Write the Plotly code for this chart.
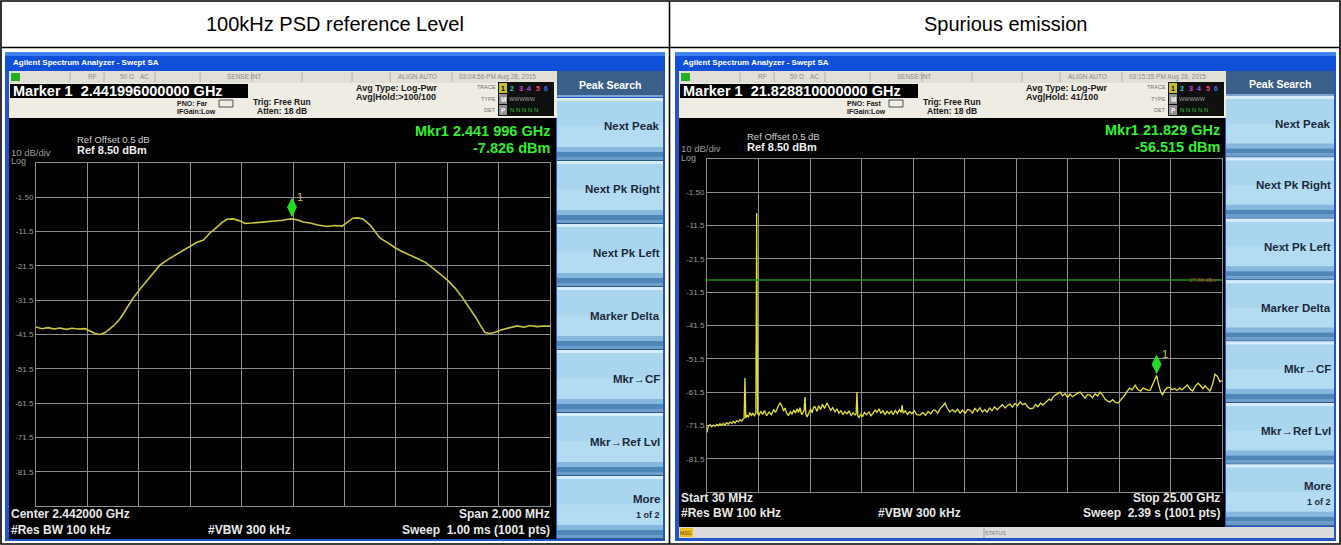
import plotly.graph_objects as go

W, H = 1341, 545
SANS = "Liberation Sans, Arial, Helvetica, sans-serif"

# ---------------- data ----------------
panel_titles = ["100kHz PSD reference Level", "Spurious emission"]

psd_freq_ghz = [
    2.441000, 2.441023, 2.441047, 2.441070, 2.441093, 2.441117, 2.441140, 2.441163,
    2.441191, 2.441210, 2.441230, 2.441249, 2.441268, 2.441288, 2.441307, 2.441327,
    2.441354, 2.441377, 2.441405, 2.441432, 2.441455, 2.441482, 2.441514, 2.441541,
    2.441572, 2.441599, 2.441626, 2.441650, 2.441677, 2.441704, 2.441724, 2.441743,
    2.441767, 2.441790, 2.441813, 2.441840, 2.441872, 2.441899, 2.441930, 2.441961,
    2.441980, 2.441996, 2.442019, 2.442039, 2.442066, 2.442097, 2.442132, 2.442163,
    2.442191, 2.442210, 2.442233, 2.442253, 2.442272, 2.442300, 2.442323, 2.442339,
    2.442370, 2.442397, 2.442424, 2.442455, 2.442486, 2.442518, 2.442541, 2.442572,
    2.442603, 2.442630, 2.442658, 2.442689, 2.442712, 2.442732, 2.442747, 2.442767,
    2.442790, 2.442813, 2.442844, 2.442872, 2.442899, 2.442922, 2.442949, 2.442977,
    2.443000,
]
psd_level_dbm = [
    -39.3, -39.8, -39.5, -39.9, -39.6, -40.0, -39.7, -39.9,
    -39.8, -40.6, -41.2, -41.5, -41.0, -39.8, -38.6, -36.9,
    -33.8, -31.0, -28.2, -25.8, -23.6, -21.3, -19.6, -18.4,
    -16.9, -15.8, -14.6, -14.0, -11.9, -10.2, -8.8, -7.9,
    -7.8, -8.3, -9.1, -9.0, -8.8, -8.6, -8.4, -8.2,
    -7.9, -7.8, -8.1, -8.7, -9.0, -9.6, -10.0, -9.7,
    -9.9, -8.9, -7.6, -7.5, -7.8, -9.6, -11.8, -13.4,
    -14.8, -16.2, -17.3, -18.3, -19.4, -20.6, -21.9, -23.8,
    -25.8, -27.9, -30.6, -33.9, -36.6, -39.2, -40.9, -41.2,
    -40.8, -40.1, -39.6, -39.0, -39.4, -38.9, -39.2, -39.0,
    -39.1,
]
psd_center_ghz = 2.442
psd_span_ghz = 0.002
psd_marker_ghz = 2.441996
psd_marker_dbm = -7.826

spur_start_ghz = 0.03
spur_stop_ghz = 25.0
spur_freq_ghz = [
    0.03, 0.10, 0.18, 0.26, 0.34, 0.42, 0.50, 0.58, 0.66, 0.74, 0.82, 0.90, 0.98, 1.06,
    1.15, 1.23, 1.31, 1.39, 1.47, 1.55, 1.63, 1.71, 1.78, 1.83, 1.87, 1.91, 1.97, 2.04,
    2.11, 2.18, 2.25, 2.33, 2.40, 2.44, 2.48, 2.55, 2.64, 2.73, 2.82, 2.92, 3.04, 3.15,
    3.26, 3.36, 3.47, 3.57, 3.66, 3.74, 3.81, 3.90, 3.98, 4.07, 4.15, 4.24, 4.32, 4.40,
    4.47, 4.54, 4.62, 4.70, 4.74, 4.78, 4.82, 4.88, 4.96, 5.05, 5.13, 5.20, 5.27, 5.36,
    5.45, 5.54, 5.63, 5.73, 5.85, 5.94, 6.03, 6.12, 6.24, 6.33, 6.42, 6.52, 6.62, 6.72,
    6.82, 6.92, 7.02, 7.11, 7.21, 7.26, 7.30, 7.34, 7.40, 7.48, 7.57, 7.66, 7.76, 7.89,
    7.98, 8.08, 8.18, 8.27, 8.37, 8.46, 8.56, 8.66, 8.76, 8.86, 8.96, 9.06, 9.16, 9.26,
    9.36, 9.45, 9.49, 9.54, 9.64, 9.75, 9.86, 9.97, 10.08, 10.20, 10.36, 10.50, 10.62, 10.75,
    10.88, 11.00, 11.09, 11.22, 11.35, 11.47, 11.57, 11.67, 11.80, 11.93, 12.06, 12.18, 12.30, 12.42,
    12.55, 12.66, 12.78, 12.90, 13.02, 13.14, 13.26, 13.38, 13.50, 13.61, 13.73, 13.85, 13.97, 14.10,
    14.24, 14.36, 14.48, 14.60, 14.72, 14.84, 14.96, 15.08, 15.21, 15.33, 15.45, 15.57, 15.70, 15.84,
    15.96, 16.08, 16.20, 16.31, 16.42, 16.52, 16.62, 16.72, 16.81, 16.92, 17.03, 17.15, 17.27, 17.39,
    17.51, 17.63, 17.75, 17.87, 18.00, 18.12, 18.24, 18.36, 18.48, 18.60, 18.72, 18.85, 18.97, 19.09,
    19.21, 19.33, 19.45, 19.57, 19.70, 19.83, 19.96, 20.08, 20.20, 20.30, 20.40, 20.52, 20.65, 20.79,
    20.92, 21.05, 21.18, 21.30, 21.42, 21.52, 21.62, 21.72, 21.83, 21.92, 22.02, 22.12, 22.22, 22.34,
    22.46, 22.58, 22.70, 22.82, 22.95, 23.07, 23.19, 23.32, 23.45, 23.57, 23.70, 23.84, 23.96, 24.08,
    24.18, 24.30, 24.42, 24.54, 24.66, 24.78, 24.90, 25.00,
]
spur_level_dbm = [
    -73.6, -71.6, -71.3, -71.9, -71.4, -71.8, -71.2, -71.6, -71.0, -71.5, -70.9, -71.4, -70.7, -71.1,
    -70.5, -70.9, -70.3, -70.8, -70.1, -70.4, -69.8, -70.2, -69.6, -69.4, -57.3, -69.3, -68.4, -69.0,
    -67.6, -68.5, -67.9, -68.6, -67.7, -7.7, -67.9, -68.4, -67.3, -68.2, -67.0, -68.6, -67.5, -68.3,
    -66.8, -67.6, -65.9, -64.8, -65.6, -67.2, -66.3, -67.9, -68.5, -67.4, -68.1, -66.9, -67.8, -66.5,
    -67.6, -66.2, -68.3, -67.5, -67.0, -63.0, -68.0, -69.0, -67.9, -66.6, -67.7, -66.0, -65.9, -67.3,
    -65.6, -66.7, -65.2, -66.4, -64.8, -65.9, -67.0, -66.2, -67.4, -66.5, -67.8, -67.1, -68.2, -67.4,
    -68.0, -67.2, -68.5, -67.7, -68.4, -68.0, -61.5, -68.6, -69.2, -68.1, -68.9, -67.6, -68.3, -67.5,
    -68.6, -67.8, -66.9, -67.6, -66.5, -67.9, -67.1, -68.2, -67.3, -68.0, -67.2, -68.3, -67.0, -67.9,
    -66.8, -67.6, -65.4, -67.8, -67.1, -68.2, -67.4, -68.0, -67.1, -68.3, -68.4, -67.6, -68.5, -67.3,
    -68.0, -66.9, -66.9, -67.8, -66.4, -65.6, -64.8, -66.2, -67.4, -66.8, -67.5, -66.6, -67.8, -66.9,
    -67.9, -66.7, -66.9, -67.8, -66.4, -67.3, -66.2, -67.5, -66.8, -67.5, -66.3, -67.1, -65.9, -66.8,
    -66.0, -65.2, -66.3, -65.5, -65.1, -66.0, -64.9, -65.6, -64.5, -65.3, -64.9, -65.9, -66.5, -66.3,
    -65.2, -65.9, -64.8, -65.4, -64.8, -64.2, -63.6, -64.0, -63.0, -62.4, -62.0, -61.5, -62.6, -62.0,
    -63.1, -62.1, -62.9, -62.3, -61.8, -61.5, -62.6, -63.3, -62.2, -62.4, -63.2, -62.0, -62.7, -61.5,
    -62.4, -63.6, -64.2, -64.5, -63.8, -64.6, -64.8, -63.9, -63.2, -62.3, -61.2, -60.3, -60.8, -59.4,
    -60.7, -61.2, -60.3, -60.6, -61.0, -60.9, -59.6, -58.2, -56.5, -59.0, -61.3, -62.4, -61.0, -60.2,
    -60.0, -60.8, -60.4, -61.0, -60.3, -60.8, -60.2, -59.4, -60.6, -61.2, -59.8, -58.8, -59.6, -60.5,
    -59.6, -60.4, -61.2, -59.2, -56.1, -56.8, -58.4, -58.0,
]
spur_marker_ghz = 21.82881
spur_marker_dbm = -56.515
spur_line_dbm = -27.83

ref_level_dbm = 8.5
db_per_div = 10
n_div = 10
y_tick_labels = ["-1.50", "-11.5", "-21.5", "-31.5", "-41.5", "-51.5", "-61.5", "-71.5", "-81.5"]
softkeys = ["Next Peak", "Next Pk Right", "Next Pk Left", "Marker Delta",
            "Mkr\u2192CF", "Mkr\u2192Ref Lvl", "More"]

# ---------------- helpers ----------------
def X(p):
    return p / W


def Y(p):
    return 1 - p / H


shapes, annos = [], []


def rect(x0, y0, x1, y1, fill, lc=None, lw=0, layer="below"):
    shapes.append(dict(type="rect", xref="paper", yref="paper",
                       x0=X(x0), x1=X(x1), y0=Y(y1), y1=Y(y0),
                       fillcolor=fill, layer=layer,
                       line=dict(color=lc or "rgba(0,0,0,0)", width=lw)))


def seg(x0, y0, x1, y1, color, w=1, layer="below"):
    shapes.append(dict(type="line", xref="paper", yref="paper",
                       x0=X(x0), x1=X(x1), y0=Y(y0), y1=Y(y1), layer=layer,
                       line=dict(color=color, width=w)))


def txt(x, y, s, size=9, color="#000", anchor="left", bold=False):
    annos.append(dict(xref="paper", yref="paper", x=X(x), y=Y(y),
                      text=("<b>%s</b>" % s) if bold else s, showarrow=False,
                      xanchor=anchor, yanchor="middle", borderpad=0,
                      font=dict(size=size, color=color, family=SANS)))


# ---------------- table frame ----------------
txt(335, 24, panel_titles[0], 20, "#000", "center")
txt(1005, 24, panel_titles[1], 20, "#000", "center")


def screen(c):
    dx = c["dx"]
    fx0, fx1 = c["fx"]
    # window frame and title bar
    rect(fx0, 52, fx1, 541, "#2355c8")
    rect(fx0, 52, fx1, 71, "#1050d8")
    rect(fx0, 52, fx1, 56, "#3f82f0")
    txt(dx + 12, 62, "Agilent Spectrum Analyzer - Swept SA", 8, "#ffffff", bold=True)
    # status row
    rect(dx + 9, 71, dx + 557, 83, "#e2dfd6")
    rect(dx + 11, 73, dx + 20, 81, "#22b022")
    for sx in [70, 104, 155, 200, 252, 302, 352, 390, 452]:
        seg(dx + sx, 72, dx + sx, 82, "#b8b4aa", 1)
    for sx, s in [(87, "RF"), (119, "50 \u03a9"), (139, "AC"), (226, "SENSE:INT"),
                  (397, "ALIGN AUTO"), (458, c["time"])]:
        txt(dx + sx, 77, s, 6.5, "#8a8a8a")
    # beige settings row
    rect(dx + 9, 83, dx + 557, 118, "#efece3")
    rect(dx + 10, 84, dx + 248, 98, "#000000")
    txt(dx + 12, 91, c["marker_hdr"], 14.5, "#ffffff", bold=True)
    txt(dx + 176, 103.5, c["pno"], 7, "#202020", bold=True)
    txt(dx + 176, 111.5, "IFGain:Low", 7, "#202020", bold=True)
    rect(dx + 219, 100, dx + 233, 107, "rgba(0,0,0,0)", "#505050", 1)
    txt(dx + 252, 102, "Trig: Free Run", 8.5, "#202020", bold=True)
    txt(dx + 256, 111, "Atten: 18 dB", 8.5, "#202020", bold=True)
    txt(dx + 355, 88, "Avg Type: Log-Pwr", 9, "#202020", bold=True)
    txt(dx + 355, 97, c["avg_hold"], 9, "#202020", bold=True)
    for yy, s in [(87, "TRACE"), (99, "TYPE"), (110, "DET")]:
        txt(dx + 497, yy, s, 5.5, "#707070", "right")
    rect(dx + 498, 82, dx + 554, 116, "#101010")
    rect(dx + 499, 83, dx + 507, 93, "#c8c020")
    txt(dx + 503, 88, "1", 7, "#000000", "center", True)
    for i, col in enumerate(["#20d0d0", "#e040e0", "#a050ff", "#ff4080", "#4070ff"]):
        txt(dx + 512 + i * 8.5, 88, str(i + 2), 7, col, "center", True)
    rect(dx + 499, 94, dx + 507, 104, "#909090")
    txt(dx + 503, 99, "M", 6.5, "#ffffff", "center", True)
    txt(dx + 508, 99, "WWWWW", 5.5, "#a0a0a0")
    rect(dx + 499, 105, dx + 507, 115, "#909090")
    txt(dx + 503, 110, "P", 6.5, "#ffffff", "center", True)
    txt(dx + 509, 110, "N N N N N", 6, "#30c030")
    # black display
    d = c["disp"]
    rect(d[0], d[1], d[2], d[3], "#000000")
    txt(dx + 76, c["ref_y"] - 11, "Ref Offset 0.5 dB", 9.5, "#d0d0d0")
    txt(dx + 76, c["ref_y"], "Ref 8.50 dBm", 11, "#f0f0f0", bold=True)
    txt(dx + 10, c["ref_y"] + 2, "10 dB/div", 9.5, "#9a9a9a")
    txt(dx + 10, c["ref_y"] + 11, "Log", 9, "#9a9a9a")
    txt(c["mkr_x"], c["mkr_y"], c["mkr1"], 14.5, "#33ee33", "right", True)
    txt(c["mkr_x"], c["mkr_y"] + 17, c["mkr2"], 14.5, "#33ee33", "right", True)
    b1, b2 = c["bot_y"]
    txt(dx + 10, b1, c["bl1"], 12, "#e8e8e8", bold=True)
    txt(dx + 10, b2, "#Res BW 100 kHz", 12, "#e8e8e8", bold=True)
    txt(dx + 207, b2, "#VBW 300 kHz", 12, "#e8e8e8", bold=True)
    txt(c["mkr_x"], b1, c["br1"], 12, "#e8e8e8", "right", True)
    txt(c["mkr_x"], b2, c["br2"], 12, "#e8e8e8", "right", True)
    # message bar
    if c.get("msg"):
        m = c["msg"]
        rect(m[0], m[1], m[2], m[3], "#dcdcdc")
        rect(m[0] + 1, m[1] + 1, m[0] + 14, m[3] - 1, "#f0c020")
        txt(m[0] + 7, (m[1] + m[3]) / 2, "MSG", 5, "#604000", "center")
        seg(dx + 314, m[1], dx + 314, m[3], "#a0a0a0", 1)
        txt(dx + 325, (m[1] + m[3]) / 2, "STATUS", 5.5, "#808080", "center")
    # softkey panel
    px0, px1 = c["panel"]
    h0, h1 = c["head"]
    rect(px0, h0, px1, h1, "#3a5f88")
    rect(px0, h1 - 2, px1, h1, "#7aa6d0")
    txt((px0 + px1) / 2, (h0 + h1) / 2 + 1, "Peak Search", 10.5, "#ffffff", "center", True)
    bt, bh = c["btn0"], c["btnh"]
    for i, key in enumerate(softkeys):
        y0 = bt + i * bh
        y1 = y0 + bh
        rect(px0, y0, px1, y1, "#a9d5ef")
        rect(px0, y0, px1, y0 + 3, "#d6eefb")
        rect(px0, y0 + 0.45 * bh, px1, y1 - 14, "#b3dbf2")
        rect(px0, y1 - 14, px1, y1 - 9, "#86b8de")
        rect(px0, y1 - 9, px1, y1 - 4, "#4f86b8")
        rect(px0, y1 - 4, px1, y1 - 1, "#6c9ecb")
        rect(px0, y1 - 1, px1, y1, "#2c5684")
        cy = (y0 + y1) / 2 - 3
        if key == "More":
            txt(px1 - 2, cy - 6, key, 11.5, "#1c2a3c", "right", True)
            txt(px1 - 2, cy + 10, "1 of 2", 9, "#1c2a3c", "right", True)
        else:
            txt(px1 - 2, cy, key, 11.5, "#1c2a3c", "right", True)


screen(dict(dx=0, fx=(5, 665), time="03:04:56 PM Aug 28, 2015",
            marker_hdr="Marker 1  2.441996000000 GHz", pno="PNO: Far",
            avg_hold="Avg|Hold:>100/100", disp=(9, 118, 556, 539), ref_y=150,
            mkr_x=551, mkr_y=131, mkr1="Mkr1 2.441 996 GHz", mkr2="-7.826 dBm",
            bot_y=(514, 530), bl1="Center 2.442000 GHz", br1="Span 2.000 MHz",
            br2="Sweep  1.00 ms (1001 pts)", panel=(557, 663), head=(71, 97),
            btn0=98, btnh=63))
screen(dict(dx=670, fx=(675, 1336), time="03:15:35 PM Aug 28, 2015",
            marker_hdr="Marker 1  21.828810000000 GHz", pno="PNO: Fast",
            avg_hold="Avg|Hold: 41/100", disp=(679, 118, 1225, 527), ref_y=147,
            mkr_x=1221, mkr_y=130, mkr1="Mkr1 21.829 GHz", mkr2="-56.515 dBm",
            bot_y=(498, 513), bl1="Start 30 MHz", br1="Stop 25.00 GHz",
            br2="Sweep  2.39 s (1001 pts)", panel=(1226, 1334), head=(71, 96),
            btn0=96, btnh=61.4, msg=(679, 527, 1334, 538)))

# table borders on top
rect(1, 1, 1340, 544, "rgba(0,0,0,0)", "#000000", 1.6, layer="above")
seg(1, 47.5, 1340, 47.5, "#000000", 1.6, layer="above")
seg(669.5, 1, 669.5, 544, "#000000", 1.6, layer="above")

# ---------------- traces ----------------
fig = go.Figure()
fig.add_trace(go.Scatter(x=psd_freq_ghz, y=psd_level_dbm, mode="lines",
                         line=dict(color="#cbc63c", width=1.6), xaxis="x", yaxis="y",
                         hoverinfo="skip"))
fig.add_trace(go.Scatter(x=spur_freq_ghz, y=spur_level_dbm, mode="lines",
                         line=dict(color="#e4e234", width=1.3), xaxis="x2", yaxis="y2",
                         hoverinfo="skip"))
MARK_LIFT_DB = 3.4
fig.add_trace(go.Scatter(x=[psd_marker_ghz], y=[psd_marker_dbm + MARK_LIFT_DB], mode="markers",
                         marker=dict(symbol="diamond-tall", size=14, color="#22dd22"),
                         xaxis="x", yaxis="y", hoverinfo="skip"))
fig.add_trace(go.Scatter(x=[spur_marker_ghz], y=[spur_marker_dbm + MARK_LIFT_DB], mode="markers",
                         marker=dict(symbol="diamond-tall", size=14, color="#22dd22"),
                         xaxis="x2", yaxis="y2", hoverinfo="skip"))
for xa, ya, mx, my in [("x", "y", psd_marker_ghz, psd_marker_dbm),
                       ("x2", "y2", spur_marker_ghz, spur_marker_dbm)]:
    annos.append(dict(xref=xa, yref=ya, x=mx, y=my, text="1", showarrow=False,
                      xshift=8, yshift=22, font=dict(size=11, color="#d8c048", family=SANS)))

shapes.append(dict(type="line", xref="x2 domain", yref="y2", x0=0, x1=1,
                   y0=spur_line_dbm, y1=spur_line_dbm, layer="above",
                   line=dict(color="#1d8f1d", width=1.3)))
annos.append(dict(xref="x2 domain", yref="y2", x=0.995, y=spur_line_dbm, text="-27.83 dBm",
                  showarrow=False, xanchor="right", yanchor="middle",
                  font=dict(size=5.5, color="#c05050", family=SANS)))

# ---------------- axes ----------------
y_vals = [ref_level_dbm - db_per_div * i for i in range(n_div + 1)]
y_text = [""] + y_tick_labels + [""]
psd_x0 = psd_center_ghz - psd_span_ghz / 2
psd_x1 = psd_center_ghz + psd_span_ghz / 2
psd_ticks = [psd_x0 + psd_span_ghz / n_div * i for i in range(n_div + 1)]
spur_ticks = [spur_start_ghz + (spur_stop_ghz - spur_start_ghz) / n_div * i for i in range(n_div + 1)]

GRID = "#8e8e8e"
common_x = dict(showticklabels=False, showgrid=True, gridcolor=GRID, gridwidth=1, zeroline=False,
                showline=True, linecolor=GRID, linewidth=1, mirror=True, ticks="", fixedrange=True)
common_y = dict(tickvals=y_vals, ticktext=y_text, showgrid=True, gridcolor=GRID, gridwidth=1,
                zeroline=False, showline=True, linecolor=GRID, linewidth=1, mirror=True, ticks="",
                range=[ref_level_dbm - db_per_div * n_div, ref_level_dbm],
                tickfont=dict(size=8, color="#9a9a9a", family=SANS), fixedrange=True)

fig.update_layout(
    width=W, height=H, margin=dict(l=0, r=0, t=0, b=0),
    paper_bgcolor="#ffffff", plot_bgcolor="#000000", showlegend=False, hovermode=False,
    xaxis=dict(domain=[X(36), X(550)], range=[psd_x0, psd_x1], tickvals=psd_ticks,
               anchor="y", **common_x),
    yaxis=dict(domain=[Y(506), Y(163)], anchor="x", **common_y),
    xaxis2=dict(domain=[X(707), X(1222)], range=[spur_start_ghz, spur_stop_ghz],
                tickvals=spur_ticks, anchor="y2", **common_x),
    yaxis2=dict(domain=[Y(492), Y(159)], anchor="x2", **common_y),
    shapes=shapes, annotations=annos,
)

fig.write_html("out.html", config={"displayModeBar": False, "staticPlot": True},
               post_script="document.body.style.margin='0';")
